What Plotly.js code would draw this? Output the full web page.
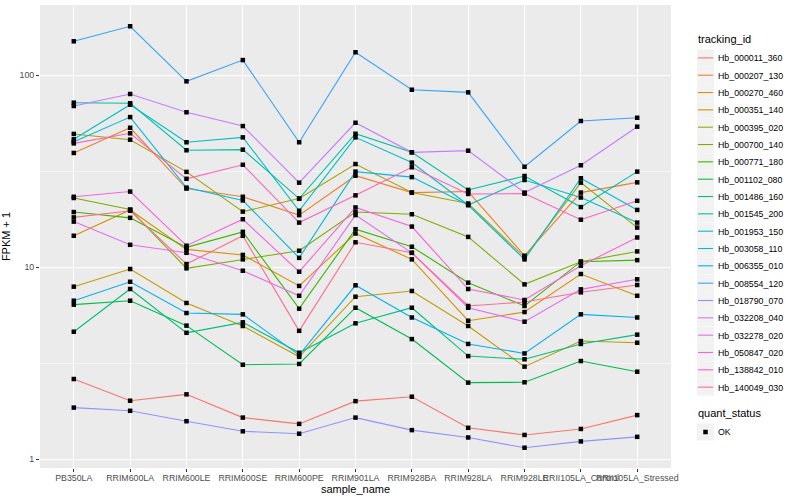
<!DOCTYPE html>
<html>
<head>
<meta charset="utf-8">
<script src="https://cdn.plot.ly/plotly-3.0.1.min.js"></script>
<style>html,body{margin:0;padding:0;background:#fff;}#chart{width:800px;height:500px;}</style>
</head>
<body>
<div id="chart"></div>
<script>
var categories = ['PB350LA','RRIM600LA','RRIM600LE','RRIM600SE','RRIM600PE','RRIM901LA','RRIM928BA','RRIM928LA','RRIM928LE','RRII105LA_Control','RRII105LA_Stressed'];

var trackingIds = ['Hb_000011_360','Hb_000207_130','Hb_000270_460','Hb_000351_140','Hb_000395_020','Hb_000700_140','Hb_000771_180','Hb_001102_080','Hb_001486_160','Hb_001545_200','Hb_001953_150','Hb_003058_110','Hb_006355_010','Hb_008554_120','Hb_018790_070','Hb_032208_040','Hb_032278_020','Hb_050847_020','Hb_138842_010','Hb_140049_030'];

var palette = ['#F8766D','#EA8331','#D89000','#C09B00','#A3A500','#7CAE00','#39B600','#00BB4E','#00BF7D','#00C1A3','#00BFC4','#00BAE0','#00B0F6','#35A2FF','#9590FF','#C77CFF','#E76BF3','#FA62DB','#FF62BC','#FF6C91'];

var hb_000011_360 = [2.62, 2.02, 2.18, 1.65, 1.53, 2.01, 2.12, 1.46, 1.34, 1.44, 1.70];
var hb_000207_130 = [39.4, 53.3, 25.7, 23.3, 18.7, 30.0, 24.5, 24.8, 11.5, 24.5, 27.7];
var hb_000270_460 = [14.6, 19.9, 12.4, 11.6, 8.0, 15.0, 11.0, 5.27, 5.85, 9.23, 7.11];
var hb_000351_140 = [7.93, 9.80, 6.52, 4.95, 3.42, 7.03, 7.53, 4.95, 3.04, 4.13, 4.05];
var hb_000395_020 = [49.5, 46.2, 31.4, 19.5, 22.8, 34.5, 24.5, 21.5, 11.3, 27.6, 16.1];
var hb_000700_140 = [22.96, 20.0, 9.88, 11.0, 12.2, 19.4, 18.9, 14.4, 8.15, 10.7, 12.1];
var hb_000771_180 = [19.4, 18.1, 12.7, 15.3, 6.09, 15.8, 12.8, 8.32, 6.29, 10.7, 10.9];
var hb_001102_080 = [6.39, 6.70, 4.97, 3.11, 3.14, 6.16, 4.23, 2.51, 2.52, 3.25, 2.86];
var hb_001486_160 = [4.62, 7.71, 4.56, 5.17, 3.59, 5.11, 6.16, 3.45, 3.32, 3.99, 4.46];
var hb_001545_200 = [72.0, 71.5, 40.7, 41.0, 22.8, 49.6, 39.7, 25.3, 29.9, 20.6, 31.5];
var hb_001953_150 = [46.4, 70.3, 44.8, 47.5, 19.7, 47.5, 35.1, 21.1, 28.5, 23.1, 17.1];
var hb_003058_110 = [45.1, 60.6, 26.0, 22.3, 11.2, 31.5, 29.5, 21.1, 11.0, 29.1, 19.9];
var hb_006355_010 = [6.70, 8.41, 5.78, 5.69, 3.49, 8.06, 5.48, 3.99, 3.56, 5.69, 5.48];
var hb_008554_120 = [150.3, 180, 93, 120, 44.8, 131.8, 84.1, 81.5, 33.4, 57.8, 60.1];
var hb_018790_070 = [1.86, 1.79, 1.58, 1.40, 1.36, 1.65, 1.42, 1.30, 1.15, 1.24, 1.31];
var hb_032208_040 = [69.2, 79.9, 64.2, 54.4, 27.6, 56.6, 39.7, 40.5, 24.5, 34.0, 54.0];
var hb_032278_020 = [17.3, 13.1, 11.9, 9.6, 7.11, 18.7, 11.9, 6.16, 5.21, 7.68, 8.66];
var hb_050847_020 = [23.3, 24.8, 12.96, 17.8, 9.49, 20.5, 16.3, 7.71, 6.76, 10.2, 14.3];
var hb_138842_010 = [44.2, 49.9, 28.9, 34.2, 17.1, 23.7, 33.2, 24.1, 24.2, 17.7, 22.2];
var hb_140049_030 = [18.2, 19.7, 10.4, 14.6, 4.67, 13.5, 11.9, 6.29, 6.6, 7.41, 8.09];

var seriesValues = [hb_000011_360, hb_000207_130, hb_000270_460, hb_000351_140, hb_000395_020, hb_000700_140, hb_000771_180, hb_001102_080, hb_001486_160, hb_001545_200, hb_001953_150, hb_003058_110, hb_006355_010, hb_008554_120, hb_018790_070, hb_032208_040, hb_032278_020, hb_050847_020, hb_138842_010, hb_140049_030];

var quantStatus = ['OK'];
var yTickVals = [1, 10, 100];
var yTickText = ['1', '10', '100'];
var yMinorVals = [Math.sqrt(10), Math.sqrt(1000)];

var FONT = 'Liberation Sans, Arial, Helvetica, sans-serif';

var traces = [];
for (var i = 0; i < trackingIds.length; i++) {
  traces.push({
    type: 'scatter', mode: 'lines', x: categories, y: seriesValues[i],
    name: trackingIds[i], legend: 'legend',
    line: {color: palette[i], width: 1.1},
    hoverinfo: 'skip'
  });
}
for (var j = 0; j < trackingIds.length; j++) {
  traces.push({
    type: 'scatter', mode: 'markers', x: categories, y: seriesValues[j],
    showlegend: false,
    marker: {color: '#000000', symbol: 'square', size: 4.5, line: {width: 0}},
    hoverinfo: 'skip'
  });
}
traces.push({
  type: 'scatter', mode: 'markers', x: [null], y: [null],
  name: quantStatus[0], legend: 'legend2', showlegend: true,
  marker: {color: '#000000', symbol: 'square', size: 4.5}
});

var layout = {
  width: 800, height: 500,
  margin: {l: 40, r: 116, t: 5, b: 32, pad: 0},
  paper_bgcolor: '#FFFFFF',
  plot_bgcolor: '#EBEBEB',
  font: {family: FONT, color: '#000000'},
  showlegend: true,
  xaxis: {
    type: 'category', categoryorder: 'array', categoryarray: categories,
    range: [-0.6, 10.6], automargin: false,
    showgrid: true, gridcolor: '#FFFFFF', gridwidth: 1.07,
    zeroline: false, showline: false,
    ticks: 'outside', ticklen: 3, tickwidth: 1, tickcolor: '#333333',
    ticklabelstandoff: -2,
    tickangle: 0, tickfont: {family: FONT, size: 8.8, color: '#4D4D4D'},
    title: {text: 'sample_name', font: {family: FONT, size: 11, color: '#000000'}, standoff: 3}
  },
  yaxis: {
    type: 'log', range: [-0.045, 2.366], automargin: false,
    tickmode: 'array', tickvals: yTickVals, ticktext: yTickText,
    showgrid: true, gridcolor: '#FFFFFF', gridwidth: 1.07,
    minor: {tickmode: 'array', tickvals: yMinorVals, showgrid: true, gridcolor: '#FFFFFF', gridwidth: 0.55, ticks: ''},
    zeroline: false, showline: false,
    ticks: 'outside', ticklen: 3, tickwidth: 1, tickcolor: '#333333',
    tickfont: {family: FONT, size: 8.8, color: '#4D4D4D'},
    title: {text: 'FPKM + 1', font: {family: FONT, size: 11, color: '#000000'}, standoff: 6}
  },
  legend: {
    x: 1.020, xanchor: 'left', y: 0.948, yanchor: 'top',
    bgcolor: 'rgba(0,0,0,0)', borderwidth: 0,
    title: {text: 'tracking_id', font: {family: FONT, size: 11, color: '#000000'}},
    font: {family: FONT, size: 8.8, color: '#000000'},
    itemwidth: 30, traceorder: 'normal', tracegroupgap: 0
  },
  legend2: {
    x: 1.020, xanchor: 'left', y: 0.140, yanchor: 'top',
    bgcolor: 'rgba(0,0,0,0)', borderwidth: 0,
    title: {text: 'quant_status', font: {family: FONT, size: 11, color: '#000000'}},
    font: {family: FONT, size: 8.8, color: '#000000'},
    itemwidth: 30
  }
};

var KEY_STEP = 17.33;
var LEGEND_LEFT = 696;
var SVGNS = 'http://www.w3.org/2000/svg';

function parseTranslate(el) {
  var tr = (el && el.getAttribute('transform')) || '';
  var m = tr.match(/translate\(\s*([-\d.eE]+)(?:[ ,]+([-\d.eE]+))?\s*\)/);
  if (!m) return null;
  return {x: parseFloat(m[1]), y: m[2] !== undefined ? parseFloat(m[2]) : 0};
}

function styleLegend(legendEl, compact) {
  var t = parseTranslate(legendEl);
  if (t) legendEl.setAttribute('transform', 'translate(' + LEGEND_LEFT + ',' + t.y + ')');
  var items = legendEl.querySelectorAll('g.traces');
  var y0 = null, x0 = 0;
  for (var k = 0; k < items.length; k++) {
    var g = items[k];
    var p = parseTranslate(g);
    if (p) {
      if (y0 === null) { y0 = p.y; x0 = p.x; }
      if (compact) g.setAttribute('transform', 'translate(' + x0 + ',' + (y0 + k * KEY_STEP) + ')');
    }
    var rect = document.createElementNS(SVGNS, 'rect');
    rect.setAttribute('x', 1); rect.setAttribute('y', -8.5);
    rect.setAttribute('width', 17); rect.setAttribute('height', 17);
    rect.setAttribute('fill', '#F2F2F2');
    g.insertBefore(rect, g.firstChild);
    var lines = g.querySelectorAll('g.legendlines path, path.js-line');
    for (var a = 0; a < lines.length; a++) lines[a].setAttribute('d', 'M2,0h15');
    var pts = g.querySelectorAll('g.legendsymbols path, path.scatterpts');
    for (var b = 0; b < pts.length; b++) pts[b].setAttribute('transform', 'translate(9.5,0)');
    var txts = g.querySelectorAll('text');
    for (var c = 0; c < txts.length; c++) txts[c].setAttribute('x', 22);
  }
}

Plotly.newPlot('chart', traces, layout, {displayModeBar: false, staticPlot: true}).then(function (gd) {
  var legs = gd.querySelectorAll('g.infolayer > g');
  for (var n = 0; n < legs.length; n++) {
    var cls = legs[n].getAttribute('class') || '';
    try {
      if (cls === 'legend') styleLegend(legs[n], true);
      else if (cls === 'legend2') styleLegend(legs[n], false);
    } catch (e) {}
  }
});
</script>
</body>
</html>
